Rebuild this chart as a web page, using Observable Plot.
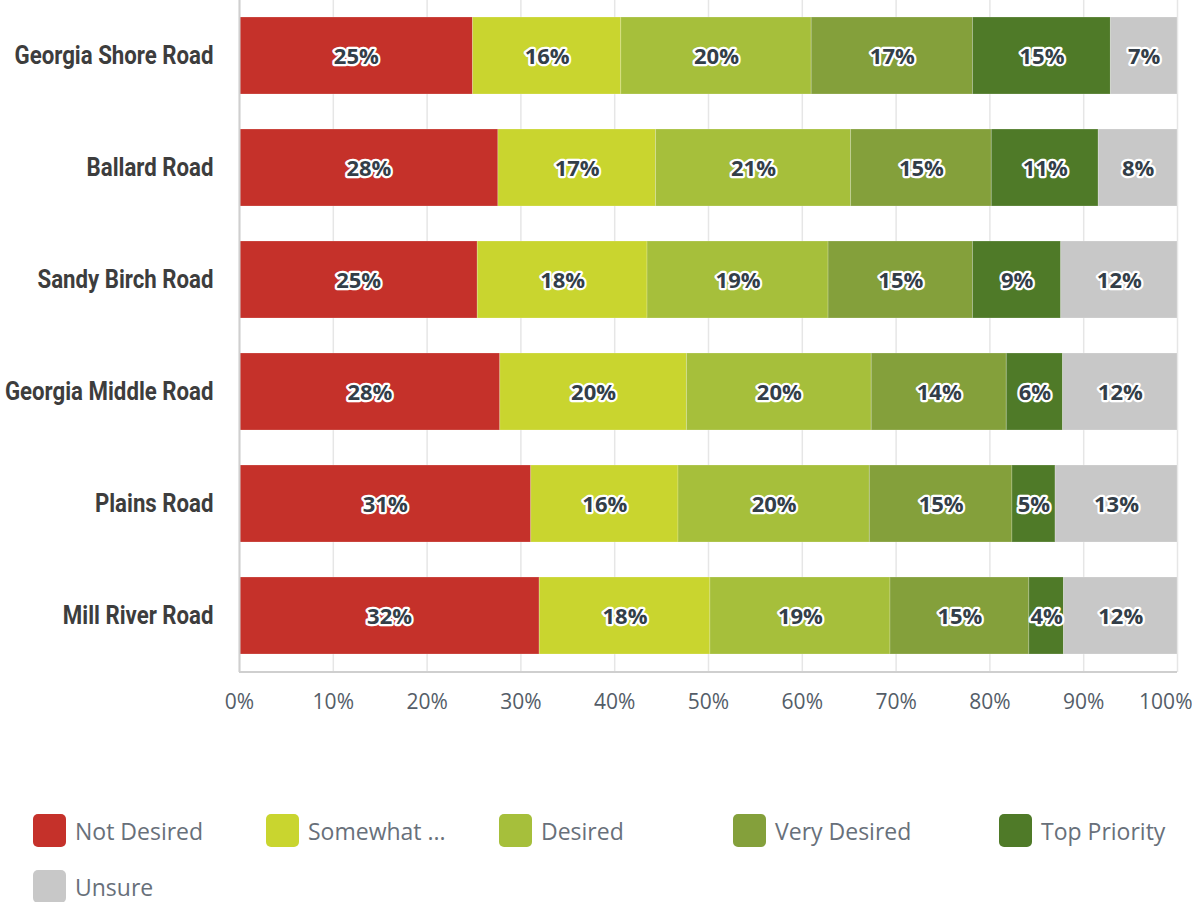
<!DOCTYPE html>
<html>
<head>
<meta charset="utf-8">
<script src="https://cdn.jsdelivr.net/npm/d3@7"></script>
<script src="https://cdn.jsdelivr.net/npm/@observablehq/plot@0.6"></script>
<style>
  html, body { margin: 0; padding: 0; background: #fff; }
  #wrap { position: relative; width: 1192px; height: 902px; overflow: hidden; }
  #chart svg { display: block; }
  .legend-item { position: absolute; display: flex; align-items: center; font-family: "Open Sans", sans-serif; font-size: 23px; color: #68707a; white-space: nowrap; }
  .legend-item .sw { width: 33px; height: 33px; border-radius: 5px; margin-right: 9px; }
</style>
</head>
<body>
<div id="wrap">
  <div id="chart"></div>
  <div id="legend"></div>
</div>
<script>
// ---- data ----
const roads = ["Georgia Shore Road", "Ballard Road", "Sandy Birch Road", "Georgia Middle Road", "Plains Road", "Mill River Road"];
const categories = ["Not Desired", "Somewhat Desired", "Desired", "Very Desired", "Top Priority", "Unsure"];
const legendLabels = ["Not Desired", "Somewhat ...", "Desired", "Very Desired", "Top Priority", "Unsure"];
const notDesired      = [24.9, 27.6, 25.4, 27.8, 31.1, 32.0];
const somewhatDesired = [15.8, 16.8, 18.1, 19.9, 15.7, 18.2];
const desired         = [20.3, 20.8, 19.3, 19.7, 20.4, 19.2];
const veryDesired     = [17.2, 15.0, 15.4, 14.4, 15.2, 14.8];
const topPriority     = [14.7, 11.4,  9.4,  6.0,  4.6,  3.7];
const unsure          = [ 7.1,  8.4, 12.4, 12.2, 13.0, 12.1];
const xTicks = [0, 10, 20, 30, 40, 50, 60, 70, 80, 90, 100];

const colors = ["#c5312a", "#c9d52f", "#a6bf3b", "#84a03b", "#4f7a28", "#c8c8c8"];

const series = [notDesired, somewhatDesired, desired, veryDesired, topPriority, unsure];
const rows = [];
roads.forEach((road, i) => {
  categories.forEach((cat, j) => {
    rows.push({road, category: cat, value: series[j][i]});
  });
});

const chart = Plot.plot({
  width: 1192,
  height: 760,
  marginLeft: 239,
  marginRight: 15,
  marginTop: 0,
  marginBottom: 88,
  style: {background: "transparent", overflow: "visible"},
  x: {domain: [0, 100], ticks: xTicks, label: null},
  y: {domain: roads, paddingInner: 0.31, paddingOuter: 0.155, label: null},
  color: {domain: categories, range: colors},
  marks: [
    Plot.ruleX(xTicks, {stroke: "#e6e6e6", strokeWidth: 1.5}),
    Plot.barX(rows, Plot.stackX({x: "value", y: "road", fill: "category", z: "category", stroke: "#ffffff", strokeOpacity: 0.2, strokeWidth: 1})),
    Plot.text(rows, Plot.stackX({
      x: "value", y: "road", z: "category",
      text: d => Math.round(d.value) + "%",
      fill: "#333e48", stroke: "#ffffff", strokeWidth: 4.5, paintOrder: "stroke", strokeLinejoin: "round",
      fontSize: 22, fontWeight: "bold", fontFamily: "Open Sans", dy: 1
    })),
    Plot.ruleX([0], {stroke: "#cfcfcf", strokeWidth: 2}),
    Plot.axisX({ticks: xTicks, tickFormat: d => d + "%", tickSize: 0, tickPadding: 22, fontSize: 21, fontFamily: "Open Sans", fill: "#545d68", label: null}),
    Plot.axisY({tickSize: 0, tickPadding: 26, fontSize: 26, fontWeight: "bold", fontFamily: "Roboto", fill: "#3d3d3d", label: null})
  ]
});
document.getElementById("chart").appendChild(chart);

const svg = d3.select(chart);
// condense the y labels (Roboto bold, horizontally narrowed like a condensed face)
const yTexts = svg.selectAll('[aria-label="y-axis tick label"] text');
let refWidth = null;
yTexts.each(function () { if (this.textContent === roads[0]) refWidth = this.getComputedTextLength(); });
const squeeze = refWidth ? 199 / refWidth : 0.8;
yTexts.each(function () {
  const w = this.getComputedTextLength();
  this.setAttribute("textLength", (w * squeeze).toFixed(1));
  this.setAttribute("lengthAdjust", "spacingAndGlyphs");
});
// keep "100%" inside the picture
const xTexts = svg.selectAll('[aria-label="x-axis tick label"] text');
xTexts.filter(function () { return this.textContent === "100%"; })
  .attr("text-anchor", "end").attr("dx", 15);

// bottom axis line using the library's scale
const xs = chart.scale("x");
svg.append("line")
  .attr("x1", xs.apply(0)).attr("x2", xs.apply(100))
  .attr("y1", 672).attr("y2", 672)
  .attr("stroke", "#cfcfcf").attr("stroke-width", 2);

// legend
const legendPos = [[33, 814], [266, 814], [499, 814], [733, 814], [999, 814], [33, 870]];
const legend = document.getElementById("legend");
legendLabels.forEach((lab, i) => {
  const item = document.createElement("div");
  item.className = "legend-item";
  item.style.left = legendPos[i][0] + "px";
  item.style.top = legendPos[i][1] + "px";
  item.innerHTML = `<span class="sw" style="background:${colors[i]}"></span><span>${lab}</span>`;
  legend.appendChild(item);
});
</script>
</body>
</html>
